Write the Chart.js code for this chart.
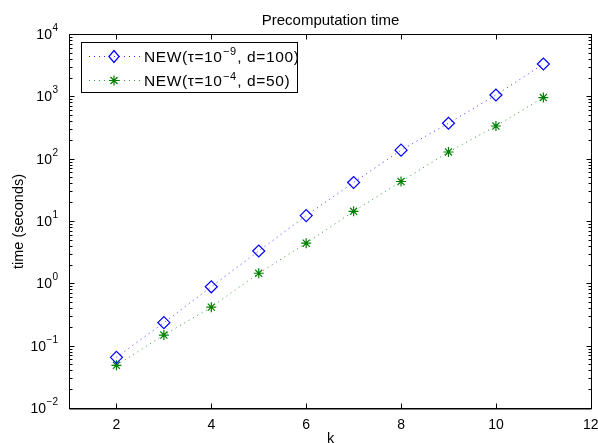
<!DOCTYPE html>
<html><head><meta charset="utf-8">
<script src="https://cdn.jsdelivr.net/npm/chart.js@4/dist/chart.umd.min.js"></script>
<style>html,body{margin:0;padding:0;background:#fff}</style>
</head><body>
<canvas id="c" width="598" height="443"></canvas>
<script>
// ---- data ----
const kValues = [2, 3, 4, 5, 6, 7, 8, 9, 10, 11];
const timeTau9 = [0.065, 0.234, 0.88, 3.3, 12.2, 41.5, 137, 370, 1050, 3300];
const timeTau4 = [0.0484, 0.148, 0.415, 1.45, 4.4, 14.3, 43, 128, 334, 955];
const xTicks = [2, 4, 6, 8, 10, 12];
const yTickExponents = [-2, -1, 0, 1, 2, 3, 4];
const legendParts = [["NEW(\u03c4=10", "\u22129", ", d=100)"], ["NEW(\u03c4=10", "\u22124", ", d=50)"]];
const titleText = "Precomputation time";
const xLabel = "k";
const yLabel = "time (seconds)";

const FONT = "'Liberation Sans', Arial, Helvetica, sans-serif";
const BLUE = '#0000ff', GREEN = '#008000';

function toPts(xs, ys) { return xs.map((x, i) => ({ x: x, y: ys[i] })); }

function drawDiamond(ctx, x, y, r) {
  ctx.save(); ctx.strokeStyle = BLUE; ctx.lineWidth = 1.2;
  ctx.beginPath(); ctx.moveTo(x, y - r); ctx.lineTo(x + r * 0.85, y); ctx.lineTo(x, y + r); ctx.lineTo(x - r * 0.85, y); ctx.closePath(); ctx.stroke(); ctx.restore();
}
function drawStar(ctx, x, y, r) {
  ctx.save(); ctx.strokeStyle = GREEN; ctx.lineWidth = 1.2; ctx.beginPath();
  for (let a = 0; a < 4; a++) { const t = a * Math.PI / 4; ctx.moveTo(x - r * Math.cos(t), y - r * Math.sin(t)); ctx.lineTo(x + r * Math.cos(t), y + r * Math.sin(t)); }
  ctx.stroke(); ctx.restore();
}
function drawSupText(ctx, x, y, base, sup, rest, size, supSize, raise, align) {
  ctx.font = size + 'px ' + FONT; const wb = ctx.measureText(base).width;
  ctx.font = supSize + 'px ' + FONT; const ws = ctx.measureText(sup).width;
  ctx.font = size + 'px ' + FONT; const wr = rest ? ctx.measureText(rest).width : 0;
  const total = wb + ws + wr;
  let x0 = x;
  if (align === 'right') x0 = x - total; else if (align === 'center') x0 = x - total / 2;
  ctx.textAlign = 'left'; ctx.textBaseline = 'alphabetic';
  ctx.font = size + 'px ' + FONT; ctx.fillText(base, x0, y);
  ctx.font = supSize + 'px ' + FONT; ctx.fillText(sup, x0 + wb + 0.5, y - raise);
  if (rest) { ctx.font = size + 'px ' + FONT; ctx.fillText(rest, x0 + wb + ws + 1, y); }
}

const decor = {
  id: 'decor',
  afterDraw(chart) {
    const ctx = chart.ctx, a = chart.chartArea, xs = chart.scales.x, ys = chart.scales.y;
    const L = Math.round(a.left) + 0.5, R = Math.round(a.right) + 0.5, T = Math.round(a.top) + 0.5, B = Math.round(a.bottom) + 0.5;
    ctx.save();
    ctx.strokeStyle = '#000'; ctx.lineWidth = 1;
    ctx.strokeRect(L, T, R - L, B - T);
    ctx.beginPath();
    xTicks.forEach(v => { const px = Math.round(xs.getPixelForValue(v)) + 0.5; ctx.moveTo(px, B); ctx.lineTo(px, B - 5); ctx.moveTo(px, T); ctx.lineTo(px, T + 5); });
    yTickExponents.forEach((e, i) => {
      const py = Math.round(ys.getPixelForValue(Math.pow(10, e))) + 0.5;
      ctx.moveTo(L, py); ctx.lineTo(L + 5, py); ctx.moveTo(R, py); ctx.lineTo(R - 5, py);
      if (i < yTickExponents.length - 1) {
        for (let m = 2; m <= 9; m++) {
          const pm = Math.round(ys.getPixelForValue(m * Math.pow(10, e))) + 0.5;
          ctx.moveTo(L, pm); ctx.lineTo(L + 3, pm); ctx.moveTo(R, pm); ctx.lineTo(R - 3, pm);
        }
      }
    });
    ctx.stroke();
    ctx.beginPath(); ctx.moveTo(L, B + 0.5); ctx.lineTo(R, B + 0.5); ctx.stroke();
    // tick labels
    ctx.fillStyle = '#000';
    ctx.font = '14px ' + FONT; ctx.textAlign = 'center'; ctx.textBaseline = 'alphabetic';
    xTicks.forEach(v => ctx.fillText(String(v), xs.getPixelForValue(v), B + 20));
    yTickExponents.forEach(e => {
      const py = ys.getPixelForValue(Math.pow(10, e));
      drawSupText(ctx, L - 12, py + 5, '10', e < 0 ? '\u2212' + (-e) : String(e), '', 14, 10, 8, 'right');
    });
    // title and axis labels
    ctx.font = '15px ' + FONT; ctx.textAlign = 'center'; ctx.textBaseline = 'alphabetic';
    ctx.fillText(titleText, (L + R) / 2, 24.5);
    ctx.font = '14.5px ' + FONT;
    ctx.fillText(xLabel, (L + R) / 2, B + 34);
    ctx.save(); ctx.translate(23, (T + B) / 2); ctx.rotate(-Math.PI / 2); ctx.fillText(yLabel, 0, 0); ctx.restore();
    // legend
    const lx = 81.5, ly = 42.5, lw = 216, lh = 50;
    ctx.fillStyle = '#fff'; ctx.fillRect(lx, ly, lw, lh);
    ctx.strokeStyle = '#000'; ctx.lineWidth = 1; ctx.strokeRect(lx, ly, lw, lh);
    const rows = [56.5, 80.5];
    const baselines = [61.5, 86];
    const cols = [BLUE, GREEN];
    rows.forEach((ry, i) => {
      ctx.save(); ctx.strokeStyle = cols[i]; ctx.globalAlpha = 0.8; ctx.lineWidth = 1; ctx.setLineDash([1, 4]);
      ctx.beginPath(); ctx.moveTo(89, ry); ctx.lineTo(140, ry); ctx.stroke(); ctx.restore();
      if (i === 0) drawDiamond(ctx, 114, ry, 6); else drawStar(ctx, 114, ry, 5);
      ctx.fillStyle = '#000';
      ctx.save();
      if ('letterSpacing' in ctx) ctx.letterSpacing = '0.6px';
      drawSupText(ctx, 144, baselines[i], legendParts[i][0], legendParts[i][1], legendParts[i][2], 15.5, 11, 6.5, 'left');
      ctx.restore();
    });
    ctx.restore();
  }
};

new Chart(document.getElementById('c'), {
  type: 'line',
  data: {
    datasets: [
      { label: 'tau9', data: toPts(kValues, timeTau9), borderColor: 'rgba(0,0,255,0.8)', borderWidth: 1, borderDash: [1, 4],
        pointStyle: 'rectRot', pointRadius: 6, pointBorderColor: BLUE, pointBackgroundColor: 'rgba(0,0,0,0)', pointBorderWidth: 1.2, tension: 0, fill: false },
      { label: 'tau4', data: toPts(kValues, timeTau4), borderColor: 'rgba(0,128,0,0.8)', borderWidth: 1, borderDash: [1, 4],
        pointStyle: 'star', pointRadius: 5, pointBorderColor: GREEN, pointBackgroundColor: GREEN, pointBorderWidth: 1.2, tension: 0, fill: false }
    ]
  },
  options: {
    responsive: false, animation: false, devicePixelRatio: 1,
    layout: { padding: { left: 69, right: 7, top: 34, bottom: 35 } },
    scales: {
      x: { type: 'linear', min: 1, max: 12, display: false },
      y: { type: 'logarithmic', min: 0.01, max: 10000, display: false }
    },
    plugins: { legend: { display: false }, title: { display: false }, tooltip: { enabled: false } },
    clip: false
  },
  plugins: [decor]
});
</script>
</body></html>
